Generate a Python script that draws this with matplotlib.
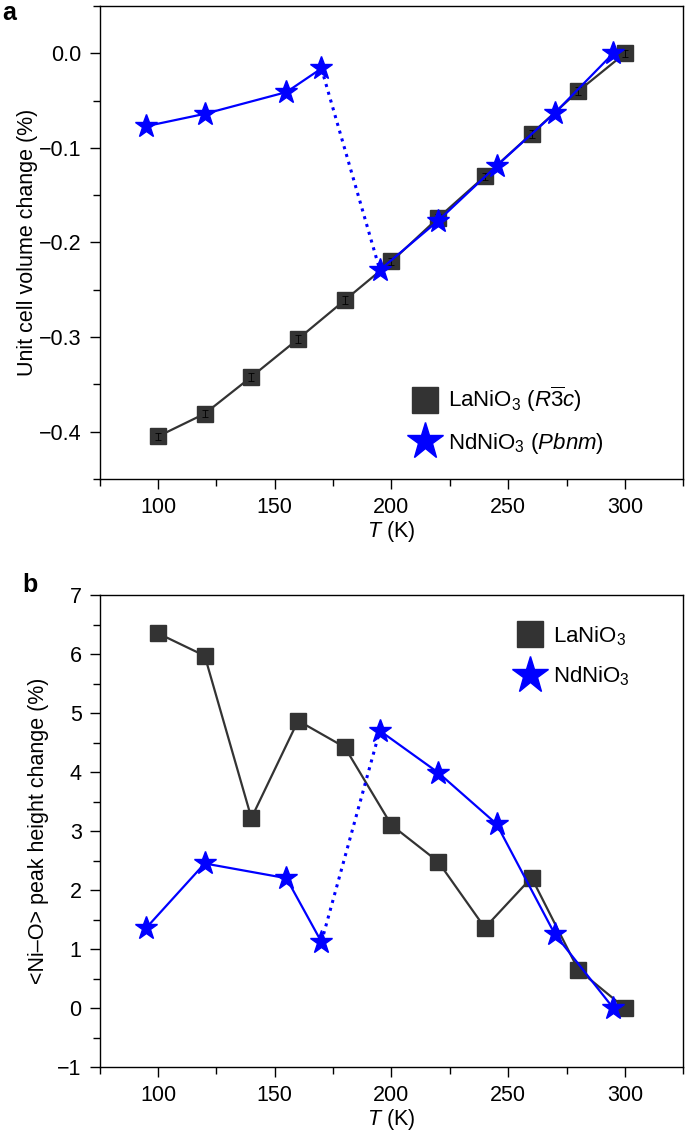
import numpy as np
import matplotlib
matplotlib.use('Agg')
import matplotlib.pyplot as plt
from matplotlib.lines import Line2D

plt.rcParams['font.family'] = ['Liberation Sans', 'DejaVu Sans']
plt.rcParams['mathtext.fontset'] = 'custom'
plt.rcParams['mathtext.rm'] = 'Liberation Sans'
plt.rcParams['mathtext.it'] = 'Liberation Sans:italic'
plt.rcParams['mathtext.bf'] = 'Liberation Sans:bold'

# panel a: unit cell volume change (%)
la_T = [100, 120, 140, 160, 180, 200, 220, 240, 260, 280, 300]
la_vol = [-0.405, -0.381, -0.342, -0.302, -0.261, -0.220, -0.174, -0.130, -0.085, -0.040, 0.0]
nd_T = [95, 120, 155, 170, 195, 220, 245, 270, 295]
nd_vol = [-0.077, -0.064, -0.041, -0.016, -0.229, -0.177, -0.119, -0.063, 0.0]

# panel b: <Ni-O> peak height change (%)
la_peak = [6.35, 5.97, 3.22, 4.87, 4.42, 3.10, 2.48, 1.36, 2.21, 0.65, 0.0]
nd_peak = [1.36, 2.45, 2.20, 1.12, 4.70, 3.99, 3.12, 1.25, 0.0]

n_low = 4  # NdNiO3 points below the transition (dotted jump after these)

grey = '#333333'
blue = '#0000ff'

fig = plt.figure(figsize=(6.85, 11.39), dpi=100)
ax1 = fig.add_axes([0.1455, 0.5795, 0.852, 0.4152])
ax2 = fig.add_axes([0.1455, 0.0632, 0.852, 0.4144])


def draw(ax, yla, ynd, err=False):
    ax.plot(la_T, yla, '-', color=grey, lw=1.6, zorder=2)
    ax.plot(la_T, yla, 's', color=grey, ms=12, mec=grey, zorder=3)
    ax.plot(nd_T[:n_low], ynd[:n_low], '-', color=blue, lw=1.6, zorder=4)
    ax.plot(nd_T[n_low:], ynd[n_low:], '-', color=blue, lw=1.6, zorder=4)
    ax.plot(nd_T[n_low - 1:n_low + 1], ynd[n_low - 1:n_low + 1], ':',
            color=blue, lw=2.2, zorder=4)
    ax.plot(nd_T, ynd, '*', color=blue, ms=17, mec=blue, zorder=5)
    if err:
        ax.errorbar(la_T, yla, yerr=0.004, fmt='none', ecolor='black',
                    elinewidth=0.6, capsize=2.5, capthick=0.6, zorder=3.5)
        ax.errorbar(nd_T, ynd, yerr=0.004, fmt='none', ecolor=blue,
                    elinewidth=0.6, capsize=0, zorder=5.5)
    ax.set_xlim(75, 325)
    ax.set_xticks([100, 150, 200, 250, 300])
    ax.set_xticks([75, 125, 175, 225, 275, 325], minor=True)
    ax.tick_params(which='both', direction='out', top=False, right=False,
                   labelsize=15.5, width=1)
    ax.tick_params(which='major', length=7, pad=6)
    ax.tick_params(which='minor', length=5)
    for s in ax.spines.values():
        s.set_linewidth(1)
    ax.set_xlabel(r'$T$ (K)', fontsize=15.5, labelpad=1)


draw(ax1, la_vol, nd_vol, err=True)
ax1.set_ylim(-0.45, 0.05)
ax1.set_yticks([-0.4, -0.3, -0.2, -0.1, 0.0])
ax1.set_yticks([-0.45, -0.35, -0.25, -0.15, -0.05, 0.05], minor=True)
ax1.set_yticklabels(['\u22120.4', '\u22120.3', '\u22120.2', '\u22120.1', '0.0'])
ax1.set_ylabel('Unit cell volume change (%)', fontsize=15.5, labelpad=1)

draw(ax2, la_peak, nd_peak)
ax2.set_ylim(-1, 7)
ax2.set_yticks(range(-1, 8))
ax2.set_yticks(np.arange(-0.5, 7, 1), minor=True)
ax2.set_yticklabels(['\u22121'] + [str(v) for v in range(0, 8)])
ax2.set_ylabel('<Ni\u2013O> peak height change (%)', fontsize=15.5, labelpad=6)

# legends
h_la = Line2D([], [], ls='none', marker='s', color=grey, ms=19)
h_nd = Line2D([], [], ls='none', marker='*', color=blue, ms=28)
ax1.legend([h_la, h_nd],
           [r'LaNiO$_3$ ($R\overline{3}c$)', r'NdNiO$_3$ ($Pbnm$)'],
           loc='lower left', bbox_to_anchor=(0.515, 0.025), frameon=False,
           fontsize=16, handlelength=1.2, handletextpad=0.45,
           labelspacing=0.75, borderpad=0)
ax2.legend([h_la, h_nd], [r'LaNiO$_3$', r'NdNiO$_3$'],
           loc='upper left', bbox_to_anchor=(0.695, 0.962), frameon=False,
           fontsize=16, handlelength=1.2, handletextpad=0.45,
           labelspacing=0.75, borderpad=0)

fig.text(0.003, 0.999, 'a', fontsize=18, fontweight='bold', va='top', ha='left')
fig.text(0.032, 0.497, 'b', fontsize=18, fontweight='bold', va='top', ha='left')

fig.savefig('out.png', dpi=100)
